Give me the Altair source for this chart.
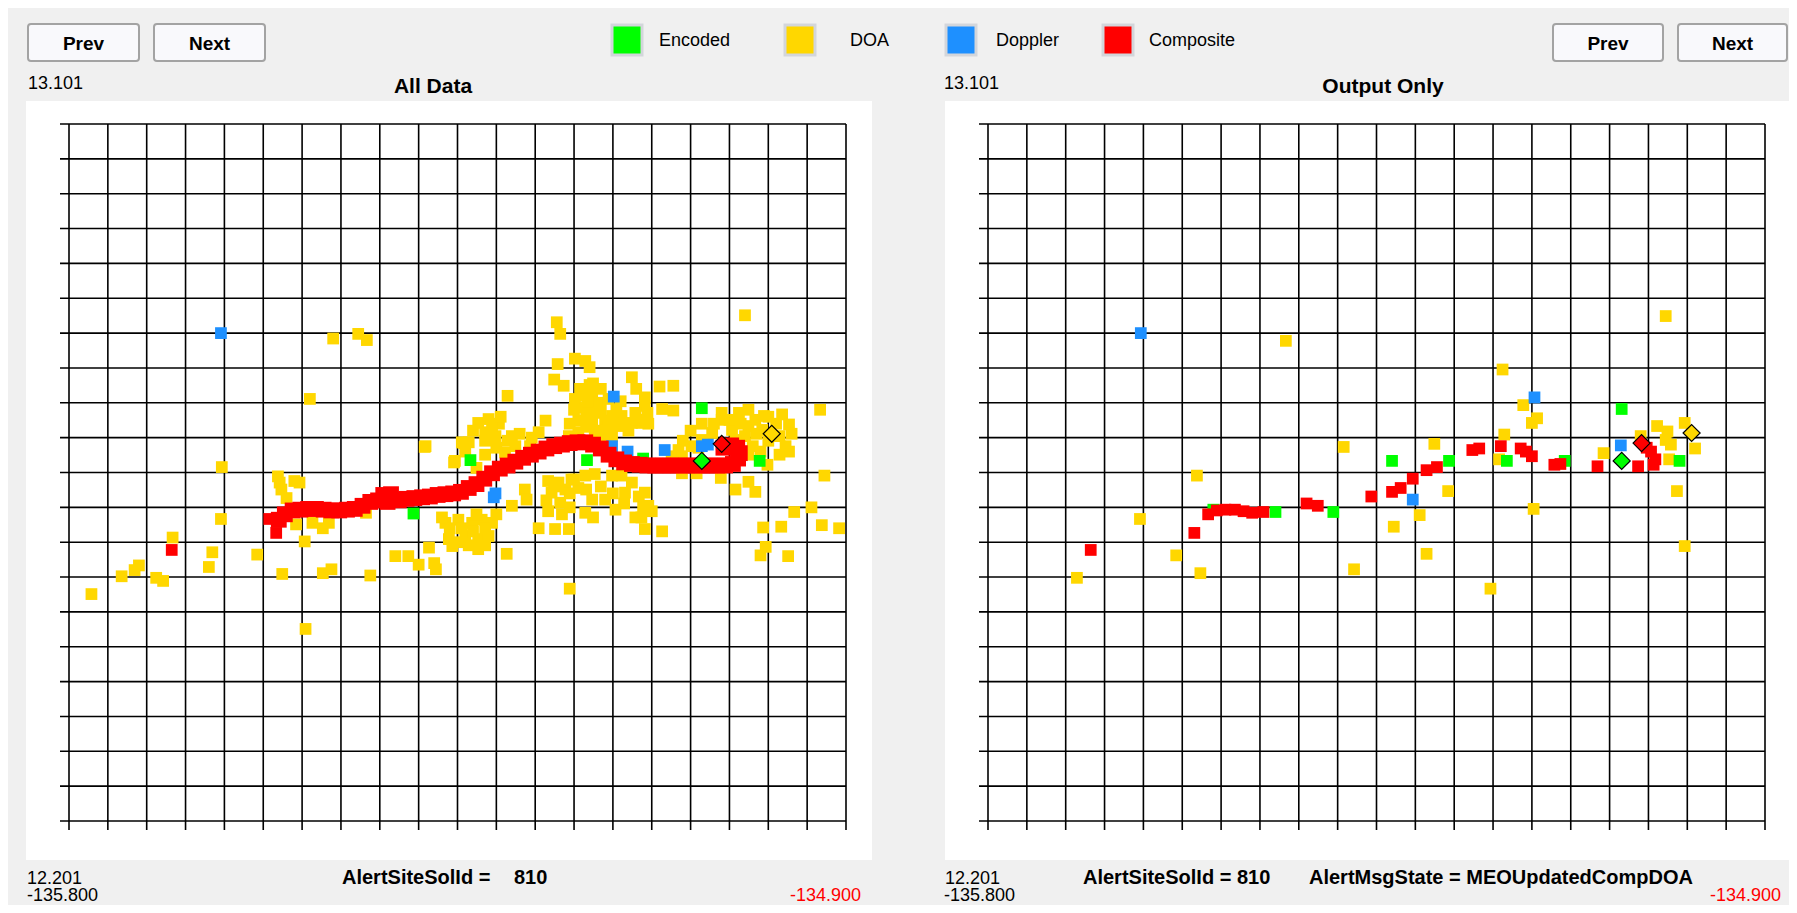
import altair as alt
import pandas as pd

# ---------------- data (lon, lat) ----------------
lon_grid = [-135.800, -135.755, -135.710, -135.665, -135.620, -135.575, -135.530,
            -135.485, -135.440, -135.395, -135.350, -135.305, -135.260, -135.215,
            -135.170, -135.125, -135.080, -135.035, -134.990, -134.945, -134.900]
lat_grid = [12.201, 12.246, 12.291, 12.336, 12.381, 12.426, 12.471, 12.516, 12.561,
            12.606, 12.651, 12.696, 12.741, 12.786, 12.831, 12.876, 12.921, 12.966,
            13.011, 13.056, 13.101]

types = ["Encoded", "DOA", "Doppler", "Composite"]
colors = ["#00ff00", "#ffd700", "#1e90ff", "#ff0000"]

# "All Data" panel
all_doa = [
    (-135.494, 12.824), (-135.465, 12.830), (-135.455, 12.822), (-135.521, 12.746), (-135.388, 12.684),
    (-135.343, 12.689), (-135.354, 12.664), (-135.623, 12.658), (-135.558, 12.646), (-135.556, 12.638),
    (-135.554, 12.629), (-135.548, 12.618), (-135.539, 12.640), (-135.533, 12.638), (-135.624, 12.591),
    (-135.537, 12.584), (-135.518, 12.586), (-135.506, 12.579), (-135.499, 12.586), (-135.527, 12.562),
    (-135.456, 12.599), (-135.680, 12.567), (-135.634, 12.548), (-135.638, 12.529), (-135.582, 12.545),
    (-135.739, 12.517), (-135.724, 12.525), (-135.719, 12.531), (-135.699, 12.515), (-135.691, 12.511),
    (-135.774, 12.494), (-135.553, 12.520), (-135.506, 12.521), (-135.496, 12.526), (-135.451, 12.518),
    (-135.526, 12.449), (-135.422, 12.543), (-135.407, 12.543), (-135.395, 12.532), (-135.383, 12.554),
    (-135.377, 12.534), (-135.375, 12.526),
    (-135.235, 12.845), (-135.231, 12.830), (-135.234, 12.791), (-135.214, 12.798), (-135.197, 12.787),
    (-135.202, 12.795), (-135.238, 12.771), (-135.227, 12.763), (-135.148, 12.774), (-135.143, 12.759),
    (-135.133, 12.748), (-135.116, 12.762), (-135.100, 12.763), (-135.292, 12.750),
    (-135.206, 12.750), (-135.194, 12.755), (-135.187, 12.741), (-135.204, 12.735), (-135.191, 12.728),
    (-135.210, 12.718), (-135.194, 12.715), (-135.179, 12.718), (-135.171, 12.724), (-135.164, 12.711),
    (-135.148, 12.715), (-135.137, 12.715), (-135.129, 12.714), (-135.160, 12.724), (-135.144, 12.728),
    (-135.133, 12.737), (-135.113, 12.733), (-135.100, 12.731), (-135.210, 12.703), (-135.191, 12.698),
    (-135.171, 12.698), (-135.221, 12.698), (-135.214, 12.746),
    (-135.215, 12.732), (-135.201, 12.723), (-135.184, 12.732), (-135.175, 12.710), (-135.152, 12.705),
    (-135.143, 12.719), (-135.188, 12.705), (-135.201, 12.710), (-135.220, 12.714), (-135.211, 12.696),
    (-135.179, 12.696), (-135.166, 12.732), (-135.197, 12.764), (-135.208, 12.759),
    (-135.193, 12.766), (-135.175, 12.746), (-135.161, 12.743), (-135.199, 12.743), (-135.184, 12.759),
    (-135.157, 12.714), (-135.130, 12.728),
    (-135.326, 12.715), (-135.314, 12.720), (-135.302, 12.714), (-135.318, 12.703), (-135.306, 12.698),
    (-135.287, 12.698), (-135.283, 12.685), (-135.295, 12.677), (-135.266, 12.685), (-135.256, 12.703),
    (-135.248, 12.718), (-135.337, 12.690), (-135.345, 12.690), (-135.353, 12.666), (-135.328, 12.657),
    (-135.387, 12.685),
    (-135.332, 12.705), (-135.318, 12.692), (-135.305, 12.683), (-135.292, 12.692), (-135.278, 12.701),
    (-135.264, 12.696), (-135.310, 12.710), (-135.341, 12.678), (-135.318, 12.674), (-135.300, 12.723),
    (-135.245, 12.640), (-135.233, 12.638), (-135.218, 12.642), (-135.202, 12.647), (-135.191, 12.649),
    (-135.171, 12.647), (-135.160, 12.647), (-135.241, 12.625), (-135.225, 12.629), (-135.210, 12.631),
    (-135.231, 12.612), (-135.194, 12.616), (-135.179, 12.616), (-135.156, 12.625), (-135.140, 12.620),
    (-135.133, 12.625), (-135.129, 12.608), (-135.125, 12.601), (-135.245, 12.601), (-135.229, 12.597),
    (-135.202, 12.599), (-135.167, 12.603), (-135.144, 12.593), (-135.137, 12.593), (-135.256, 12.579),
    (-135.237, 12.578), (-135.221, 12.578), (-135.133, 12.578), (-135.113, 12.575), (-135.272, 12.629),
    (-135.270, 12.616), (-135.287, 12.608),
    (-135.238, 12.633), (-135.220, 12.624), (-135.201, 12.629), (-135.184, 12.633), (-135.170, 12.624),
    (-135.220, 12.606), (-135.193, 12.593), (-135.157, 12.611), (-135.247, 12.615), (-135.215, 12.642),
    (-135.148, 12.638),
    (-135.364, 12.586), (-135.349, 12.590), (-135.333, 12.586), (-135.322, 12.590), (-135.310, 12.586),
    (-135.360, 12.565), (-135.341, 12.569), (-135.326, 12.565), (-135.314, 12.569), (-135.356, 12.556),
    (-135.326, 12.552), (-135.293, 12.546), (-135.220, 12.501),
    (-135.359, 12.579), (-135.345, 12.579), (-135.332, 12.575), (-135.318, 12.579), (-135.350, 12.561),
    (-135.337, 12.557), (-135.318, 12.557), (-135.368, 12.593), (-135.305, 12.597), (-135.328, 12.597),
    (-135.017, 12.854), (-134.930, 12.732), (-135.044, 12.719), (-135.024, 12.728), (-135.005, 12.719),
    (-134.995, 12.724), (-134.974, 12.726), (-134.966, 12.713), (-135.032, 12.706), (-135.013, 12.711),
    (-134.997, 12.706), (-134.977, 12.698), (-134.970, 12.685), (-134.966, 12.678), (-135.055, 12.702),
    (-135.067, 12.693), (-135.079, 12.685), (-135.094, 12.680), (-135.102, 12.672), (-135.090, 12.672),
    (-135.017, 12.698), (-135.008, 12.685), (-135.028, 12.693), (-134.991, 12.661), (-134.925, 12.647),
    (-135.045, 12.644), (-135.028, 12.629), (-135.005, 12.626), (-135.013, 12.639), (-135.090, 12.650),
    (-135.073, 12.650), (-134.960, 12.600), (-134.940, 12.606), (-134.996, 12.580), (-134.975, 12.581),
    (-134.928, 12.583), (-134.908, 12.579), (-134.993, 12.555), (-134.999, 12.544), (-134.967, 12.543),
    (-135.135, 12.607),
    (-135.080, 12.705), (-135.067, 12.714), (-135.053, 12.714), (-135.035, 12.719), (-135.022, 12.714),
    (-135.004, 12.701), (-134.990, 12.692), (-134.981, 12.714), (-134.963, 12.701), (-135.044, 12.728),
    (-135.013, 12.732), (-134.990, 12.723), (-135.089, 12.692), (-135.071, 12.683), (-134.999, 12.678),
    (-134.977, 12.674), (-135.013, 12.674),
]
all_enc = [(-135.541, 12.602), (-135.335, 12.667), (-135.401, 12.598), (-135.200, 12.667),
           (-135.067, 12.734), (-135.000, 12.666), (-135.135, 12.669)]
all_dop = [(-135.624, 12.831), (-135.169, 12.749), (-135.171, 12.685), (-135.153, 12.678),
           (-135.110, 12.680), (-135.308, 12.619), (-135.306, 12.624), (-135.067, 12.685),
           (-135.060, 12.687)]
all_comp = [(-135.681, 12.551), (-135.568, 12.591), (-135.560, 12.573)]
all_track = [
    (-135.557, 12.590), (-135.550, 12.597), (-135.541, 12.602), (-135.532, 12.603), (-135.523, 12.604),
    (-135.514, 12.604), (-135.505, 12.603), (-135.496, 12.602), (-135.487, 12.602), (-135.478, 12.603),
    (-135.469, 12.604), (-135.460, 12.608), (-135.451, 12.613), (-135.442, 12.615), (-135.433, 12.617),
    (-135.427, 12.616), (-135.418, 12.615), (-135.409, 12.617), (-135.400, 12.618), (-135.391, 12.619),
    (-135.382, 12.620), (-135.373, 12.622), (-135.364, 12.623), (-135.355, 12.624), (-135.346, 12.626),
    (-135.337, 12.631), (-135.328, 12.636), (-135.319, 12.643), (-135.310, 12.650), (-135.301, 12.656),
    (-135.292, 12.660), (-135.283, 12.665), (-135.274, 12.670), (-135.265, 12.674), (-135.256, 12.678),
    (-135.247, 12.682), (-135.238, 12.685), (-135.229, 12.687), (-135.220, 12.689), (-135.211, 12.690),
    (-135.202, 12.690), (-135.193, 12.687), (-135.184, 12.682), (-135.175, 12.674), (-135.166, 12.668),
    (-135.157, 12.664), (-135.148, 12.662), (-135.139, 12.661), (-135.130, 12.660), (-135.121, 12.660),
    (-135.112, 12.660), (-135.103, 12.660), (-135.094, 12.660), (-135.085, 12.660), (-135.076, 12.660),
    (-135.067, 12.660), (-135.058, 12.660), (-135.049, 12.660), (-135.040, 12.660), (-135.031, 12.662),
    (-135.025, 12.669), (-135.023, 12.676), (-135.026, 12.683), (-135.033, 12.686), (-135.042, 12.683),
    (-135.436, 12.622), (-135.427, 12.623), (-135.431, 12.613),
]
all_diamonds = [(-135.067, 12.666, "Encoded"), (-135.044, 12.688, "Composite"), (-134.986, 12.701, "DOA")]

# "Output Only" panel
out_doa = [
    (-135.455, 12.821), (-135.388, 12.684), (-135.558, 12.647), (-135.624, 12.591), (-135.582, 12.544),
    (-135.554, 12.521), (-135.697, 12.515), (-135.376, 12.526), (-135.015, 12.853), (-135.204, 12.784),
    (-135.180, 12.738), (-135.164, 12.721), (-135.170, 12.715), (-134.993, 12.715), (-135.025, 12.711),
    (-135.013, 12.704), (-135.015, 12.693), (-135.009, 12.687), (-134.981, 12.682), (-135.087, 12.676),
    (-135.011, 12.668), (-135.202, 12.700), (-135.208, 12.668), (-135.283, 12.688), (-135.267, 12.627),
    (-135.300, 12.596), (-135.330, 12.581), (-135.292, 12.546), (-135.168, 12.604), (-135.002, 12.627),
    (-134.993, 12.556), (-135.218, 12.501), (-135.044, 12.698),
]
out_enc = [(-135.539, 12.603), (-135.467, 12.600), (-135.400, 12.600), (-135.066, 12.733),
           (-134.999, 12.666), (-135.132, 12.666), (-135.199, 12.666), (-135.266, 12.666),
           (-135.332, 12.666)]
out_dop = [(-135.623, 12.831), (-135.167, 12.748), (-135.067, 12.686), (-135.308, 12.616)]
out_comp = [
    (-135.356, 12.620), (-135.545, 12.597), (-135.535, 12.602), (-135.525, 12.603), (-135.514, 12.603),
    (-135.504, 12.601), (-135.494, 12.599), (-135.481, 12.600), (-135.431, 12.611), (-135.418, 12.608),
    (-135.561, 12.573), (-135.681, 12.551), (-135.332, 12.626), (-135.322, 12.631), (-135.308, 12.643),
    (-135.292, 12.654), (-135.280, 12.658), (-135.239, 12.680), (-135.231, 12.682), (-135.206, 12.685),
    (-135.183, 12.682), (-135.177, 12.678), (-135.170, 12.672), (-135.144, 12.661), (-135.137, 12.662),
    (-135.094, 12.659), (-135.032, 12.678), (-135.027, 12.668), (-135.029, 12.661), (-135.047, 12.659),
    (-135.037, 12.683),
]
out_diamonds = [(-135.066, 12.666, "Encoded"), (-135.043, 12.689, "Composite"), (-134.985, 12.702, "DOA")]

# ---------------- layout / style ----------------
W, H = 777, 697
TICK = 9
BG = "#f0f0f0"
FONT = "Liberation Sans, Arial, Helvetica, sans-serif"
ONE = pd.DataFrame({"k": [0]})
color_of = dict(zip(types, colors))

xs = alt.Scale(domain=[lon_grid[0], lon_grid[-1]], nice=False, zero=False)
ys = alt.Scale(domain=[lat_grid[0], lat_grid[-1]], nice=False, zero=False)


def txt(s, x, y, size=18, bold=False, align="left", color="#000000"):
    return alt.Chart(ONE).mark_text(
        text=s, align=align, baseline="middle", font=FONT, fontSize=size,
        fontWeight="bold" if bold else "normal", color=color,
    ).encode(x=alt.value(x), y=alt.value(y))


def box(x1, x2, y1, y2, fill, stroke=None, sw=0, r=0):
    kw = dict(fill=fill, cornerRadius=r)
    if stroke:
        kw.update(stroke=stroke, strokeWidth=sw)
    else:
        kw.update(strokeWidth=0)
    return alt.Chart(ONE).mark_rect(**kw).encode(
        x=alt.value(x1), x2=alt.value(x2), y=alt.value(y1), y2=alt.value(y2))


def button(label, x1, x2, y1, y2):
    return [box(x1, x2, y1, y2, "#f9f9fc", "#a3a3a3", 2, 3),
            txt(label, (x1 + x2) / 2, (y1 + y2) / 2 + 1, size=19, bold=True, align="center")]


def legend_item(name, bx, tx):
    return [box(bx, bx + 30, -99, -69, color_of[name], "#d3d6db", 3),
            txt(name, tx, -83, size=18)]


def squares(pts, name, size=138):
    df = pd.DataFrame(pts, columns=["lon", "lat"])
    return alt.Chart(df).mark_square(size=size, opacity=1, color=color_of[name]).encode(
        x=alt.X("lon:Q", scale=xs, axis=None), y=alt.Y("lat:Q", scale=ys, axis=None))


def diamonds(pts):
    df = pd.DataFrame(pts, columns=["lon", "lat", "type"])
    return alt.Chart(df).mark_point(shape="diamond", filled=True, size=290, opacity=1,
                                    stroke="#000000", strokeWidth=1.2).encode(
        x=alt.X("lon:Q", scale=xs, axis=None), y=alt.Y("lat:Q", scale=ys, axis=None),
        fill=alt.Fill("type:N", scale=alt.Scale(domain=types, range=colors), legend=None))


def grid():
    v = alt.Chart(pd.DataFrame({"lon": lon_grid})).mark_rule(color="#000000", strokeWidth=1.6).encode(
        x=alt.X("lon:Q", scale=xs, axis=None), y=alt.value(0), y2=alt.value(H + TICK))
    h = alt.Chart(pd.DataFrame({"lat": lat_grid})).mark_rule(color="#000000", strokeWidth=1.6).encode(
        y=alt.Y("lat:Q", scale=ys, axis=None), x=alt.value(-TICK), x2=alt.value(W))
    return [v, h]


# ---------------- left panel ----------------
left_layers = [box(-61, 839, -116, 781, BG), box(-43, 803, -23, 736, "#ffffff")]
left_layers += grid()
left_layers += [squares(all_doa, "DOA"), squares(all_enc, "Encoded"), squares(all_dop, "Doppler"),
                squares(all_comp, "Composite"), squares(all_track, "Composite", size=250),
                diamonds(all_diamonds)]
left_layers += button("Prev", -41, 70, -100, -63) + button("Next", 85, 196, -100, -63)
left_layers += legend_item("Encoded", 543, 590) + legend_item("DOA", 716, 781)
left_layers += [
    txt(f"{lat_grid[-1]:.3f}", -41, -40, size=18),
    txt("All Data", 364, -37, size=21, bold=True, align="center"),
    txt(f"{lat_grid[0]:.3f}", -42, 755, size=18),
    txt(f"{lon_grid[0]:.3f}", -42, 772, size=18),
    txt("AlertSiteSolId =", 273, 754, size=20, bold=True),
    txt("810", 445, 754, size=20, bold=True),
    txt(f"{lon_grid[-1]:.3f}", 792, 772, size=18, align="right", color="#ff0000"),
]
left = alt.layer(*left_layers).properties(width=W, height=H)

# ---------------- right panel ----------------
right_layers = [box(-80, 801, -116, 781, BG), box(-43, 801, -23, 736, "#ffffff")]
right_layers += grid()
right_layers += [squares(out_doa, "DOA"), squares(out_enc, "Encoded"), squares(out_dop, "Doppler"),
                 squares(out_comp, "Composite"), diamonds(out_diamonds)]
right_layers += button("Prev", 565, 675, -100, -63) + button("Next", 690, 799, -100, -63)
right_layers += legend_item("Doppler", -42, 8) + legend_item("Composite", 115, 161)
right_layers += [
    txt(f"{lat_grid[-1]:.3f}", -44, -40, size=18),
    txt("Output Only", 395, -37, size=21, bold=True, align="center"),
    txt(f"{lat_grid[0]:.3f}", -43, 755, size=18),
    txt(f"{lon_grid[0]:.3f}", -44, 772, size=18),
    txt("AlertSiteSolId = 810", 95, 754, size=20, bold=True),
    txt("AlertMsgState = MEOUpdatedCompDOA", 321, 754, size=20, bold=True),
    txt(f"{lon_grid[-1]:.3f}", 793, 772, size=18, align="right", color="#ff0000"),
]
right = alt.layer(*right_layers).properties(width=W, height=H)

chart = alt.hconcat(left, right, spacing=0, padding=0).configure(
    background=BG).configure_view(stroke=None)

chart.save("out.html", embed_options={"renderer": "svg", "actions": False})
